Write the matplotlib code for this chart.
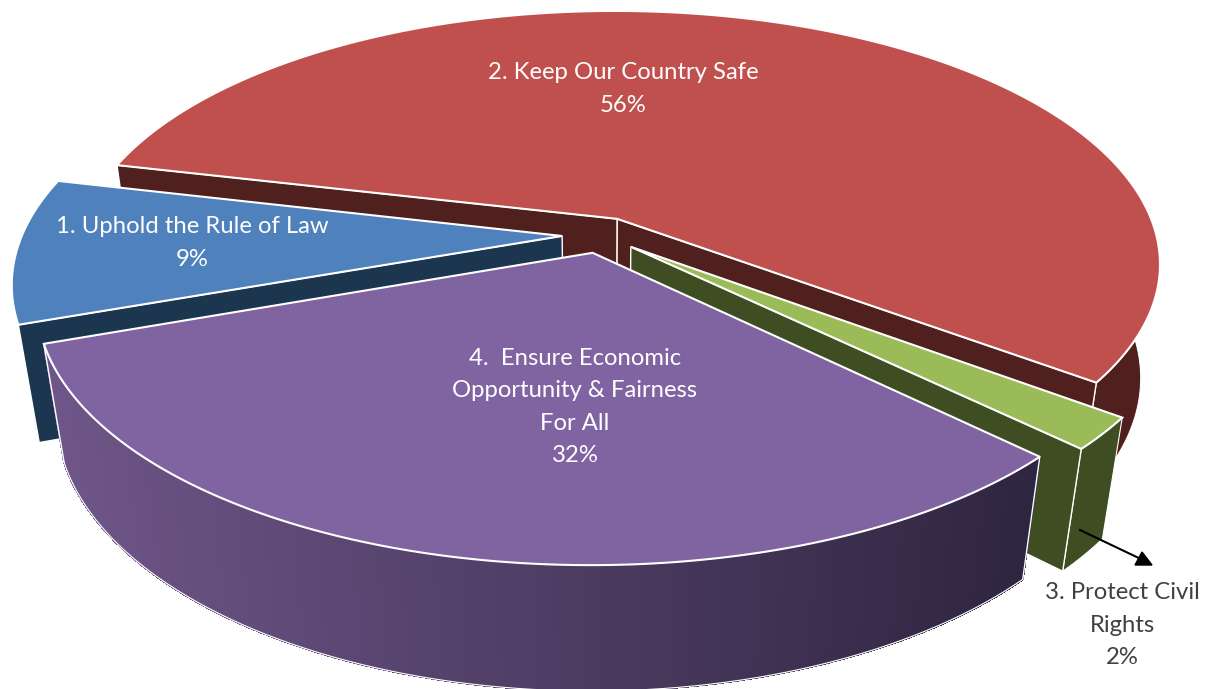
import matplotlib
matplotlib.use('Agg')
import matplotlib.pyplot as plt
from matplotlib.collections import PolyCollection
from matplotlib.colors import to_rgb
import numpy as np

plt.rcParams['font.family'] = ['Lato', 'DejaVu Sans']

names = ['1. Uphold the Rule of Law', '2. Keep Our Country Safe',
         '3. Protect Civil\nRights', '4.  Ensure Economic\nOpportunity & Fairness\nFor All']
values = [9, 56, 2, 32]
tops = ['#4F81BD', '#C0504D', '#9BBB59', '#8064A2']
sides = ['#1D3650', '#4F201D', '#3F4D22', '#2E2540']
rims = ['#3F70AC', '#4F201D', '#3F4D22', None]
label_xy = [(192, 243), (623, 89), (1122, 625), (575, 407)]
label_colors = ['white', 'white', '#404040', 'white']
draw_order = [1, 0, 2, 3]

# pie plane to pixels, with a little perspective
CX, CY = 601, 235
R, B = 540, 250
P, Q = 0.177, 0.035
H = 118
EXPLODE = 0.072
START = 250.5   # degrees clockwise from the top, where the first slice begins


def project(u, v, z):
    s = 1 / (1 - P * v + Q * z)
    return np.column_stack([CX + R * u * s, CY + B * v * s + H * z * s])


def faces_viewer(apex, edge, middle):
    # a cut face shows when the slice lies above its edge on screen
    k = (edge[1] - apex[1]) / (edge[0] - apex[0])
    return middle[1] < apex[1] + k * (middle[0] - apex[0])


fig = plt.figure(figsize=(12.05, 6.89), dpi=100)
ax = fig.add_axes([0, 0, 1, 1])
ax.set_xlim(0, 1205)
ax.set_ylim(689, 0)
ax.axis('off')

fracs = np.array(values) / sum(values)
starts = START + 360 * np.concatenate([[0], np.cumsum(fracs)[:-1]])
for rank, i in enumerate(draw_order):
    a0 = np.radians(starts[i])
    a1 = a0 + np.radians(360 * fracs[i])
    mid = (a0 + a1) / 2
    ou, ov = EXPLODE * np.sin(mid), -EXPLODE * np.cos(mid)
    t = np.linspace(a0, a1, 240)
    u = ou + np.sin(t)
    v = ov - np.cos(t)

    top_rim = project(u, v, 0)
    low_rim = project(u, v, 1)
    apex_top = project(np.array([ou]), np.array([ov]), 0)
    apex_low = project(np.array([ou]), np.array([ov]), 1)

    # outer wall
    if rims[i] is None:
        # purple wall fades to dark from left to right
        quads = [[top_rim[j], top_rim[j + 1], low_rim[j + 1], low_rim[j]] for j in range(len(t) - 1)]
        xpos = np.clip((top_rim[:-1, 0] - 40) / 1000, 0, 1)
        left = np.array(to_rgb('#6F5689'))
        right = np.array(to_rgb('#2E2540'))
        cols = [left + (right - left) * k for k in xpos]
        ax.add_collection(PolyCollection(quads, facecolors=cols, edgecolors=cols, linewidths=0.8,
                                         antialiaseds=False, zorder=rank * 10))
        ax.plot(low_rim[:, 0], low_rim[:, 1], color='white', lw=0.8, zorder=rank * 10 + 1)
        for end in (0, -1):
            ax.plot([top_rim[end, 0], low_rim[end, 0]], [top_rim[end, 1], low_rim[end, 1]],
                    color='white', lw=1.0, zorder=rank * 10 + 1)
    else:
        ax.fill(np.r_[top_rim[:, 0], low_rim[::-1, 0]], np.r_[top_rim[:, 1], low_rim[::-1, 1]],
                facecolor=rims[i], edgecolor='white', lw=0.8, zorder=rank * 10)

    # the two cut faces, where they can be seen
    middle = top_rim[len(t) // 2]
    for end in (0, -1):
        if faces_viewer(apex_top[0], top_rim[end], middle):
            face = np.vstack([apex_top, top_rim[end], low_rim[end], apex_low])
            ax.fill(face[:, 0], face[:, 1], facecolor=sides[i], edgecolor='white', lw=1.0, zorder=rank * 10 + 2)

    # top face
    poly = np.vstack([apex_top, top_rim])
    ax.fill(poly[:, 0], poly[:, 1], facecolor=tops[i], edgecolor='white', lw=1.5,
            joinstyle='miter', zorder=rank * 10 + 3)

for i in range(4):
    pct = f'{values[i]}%'
    ax.text(label_xy[i][0], label_xy[i][1], f'{names[i]}\n{pct}', color=label_colors[i], fontsize=17.2,
            ha='center', va='center', multialignment='center', linespacing=1.68, zorder=60)

# leader from the small slice to its label
ax.plot([1080, 1145], [530, 561], color='black', lw=1.5, zorder=61)
ax.fill([1135, 1152, 1142], [565, 565, 552], color='black', zorder=61)

fig.savefig('out.png', dpi=100)
